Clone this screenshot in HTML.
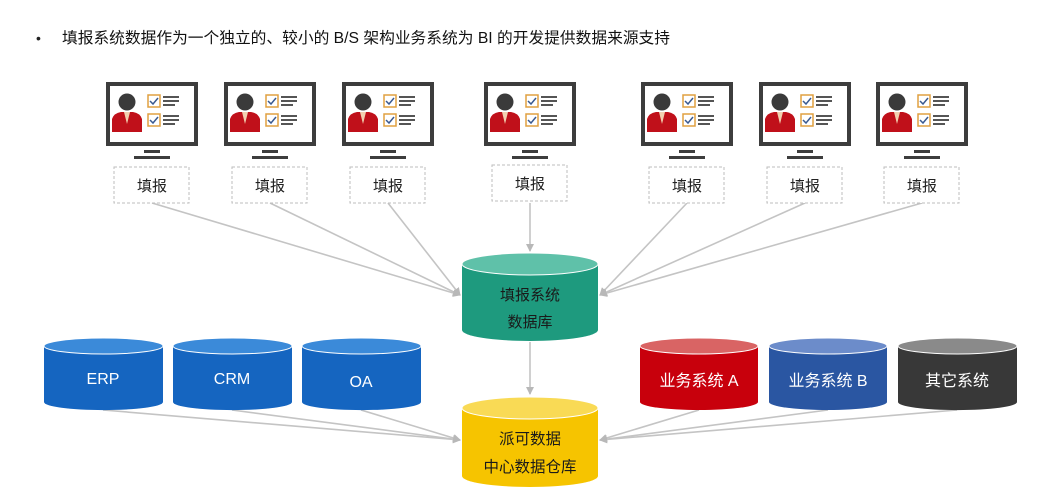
<!DOCTYPE html>
<html><head><meta charset="utf-8"><style>
html,body{margin:0;padding:0;background:#fff;}
svg{display:block;font-family:"Liberation Sans","Noto Sans CJK SC",sans-serif;}
</style></head><body>
<svg width="1049" height="500" viewBox="0 0 1049 500" xmlns="http://www.w3.org/2000/svg">
<defs>
<marker id="ar" markerWidth="8" markerHeight="8" refX="7" refY="4" orient="auto" markerUnits="userSpaceOnUse">
<path d="M0,0 L8,4 L0,8 Z" fill="#b8b8b8"/></marker>
<g id="mon">
<rect x="2" y="2" width="88" height="60" fill="#fff" stroke="#3d3d3d" stroke-width="4"/>
<circle cx="21" cy="20" r="8.5" fill="#3a3a3a"/>
<path d="M6,50 L6,37 Q8,31 15,30 L27,30 Q34,31 36,37 L36,50 Z" fill="#c0101a"/>
<path d="M18,30 L21,42 L24,30 Z" fill="#f2d0b0"/>
<rect x="42" y="13" width="12" height="12" fill="#fff" stroke="#e0a040" stroke-width="1.5"/>
<rect x="42" y="32" width="12" height="12" fill="#fff" stroke="#e0a040" stroke-width="1.5"/>
<path d="M44,19 l3,3 l5,-6 M44,38 l3,3 l5,-6" stroke="#3a5a90" stroke-width="1.5" fill="none"/>
<path d="M57,15h16 M57,19h16 M57,23h12 M57,34h16 M57,38h16 M57,42h12" stroke="#555" stroke-width="2"/>
<rect x="38" y="68" width="16" height="3" fill="#3d3d3d"/>
<rect x="28" y="74" width="36" height="3" fill="#3d3d3d"/>
</g>
</defs>

<text x="36" y="43" font-size="14" fill="#222">•</text>
<text x="62" y="43" font-size="15.5" fill="#111" textLength="608" lengthAdjust="spacingAndGlyphs">填报系统数据作为一个独立的、较小的 B/S 架构业务系统为 BI 的开发提供数据来源支持</text>

<g stroke="#c4c4c4" stroke-width="1.6" fill="none" marker-end="url(#ar)">
<line x1="152" y1="203" x2="460" y2="295"/>
<line x1="270" y1="203" x2="460" y2="295"/>
<line x1="388" y1="203" x2="460" y2="295"/>
<line x1="530" y1="203" x2="530" y2="251"/>
<line x1="687" y1="203" x2="600" y2="295"/>
<line x1="805" y1="203" x2="600" y2="295"/>
<line x1="922" y1="203" x2="600" y2="295"/>
<line x1="530" y1="342" x2="530" y2="394"/>
<line x1="103" y1="410" x2="460" y2="440"/>
<line x1="232" y1="410" x2="460" y2="440"/>
<line x1="361" y1="410" x2="460" y2="440"/>
<line x1="699" y1="410" x2="600" y2="440"/>
<line x1="828" y1="410" x2="600" y2="440"/>
<line x1="957" y1="410" x2="600" y2="440"/>
</g>

<use href="#mon" x="106" y="82"/>
<use href="#mon" x="224" y="82"/>
<use href="#mon" x="342" y="82"/>
<use href="#mon" x="484" y="82"/>
<use href="#mon" x="641" y="82"/>
<use href="#mon" x="759" y="82"/>
<use href="#mon" x="876" y="82"/>

<g fill="#fff" stroke="#bdbdbd" stroke-dasharray="3,2">
<rect x="114" y="167" width="75" height="36"/>
<rect x="232" y="167" width="75" height="36"/>
<rect x="350" y="167" width="75" height="36"/>
<rect x="492" y="165" width="75" height="36"/>
<rect x="649" y="167" width="75" height="36"/>
<rect x="767" y="167" width="75" height="36"/>
<rect x="884" y="167" width="75" height="36"/>
</g>
<g font-size="15" fill="#222" text-anchor="middle">
<text x="152" y="191">填报</text><text x="270" y="191">填报</text><text x="388" y="191">填报</text>
<text x="530" y="189">填报</text><text x="687" y="191">填报</text><text x="805" y="191">填报</text><text x="922" y="191">填报</text>
</g>

<path d="M462,264 L462,330 A68,11 0 0 0 598,330 L598,264 Z" fill="#1e9a7e"/>
<ellipse cx="530" cy="264" rx="68" ry="11" fill="#5fc1a9" stroke="#fff" stroke-width="1"/>
<text x="530" y="300" font-size="15" fill="#1a1a1a" text-anchor="middle">填报系统</text>
<text x="530" y="327" font-size="15" fill="#1a1a1a" text-anchor="middle">数据库</text>

<path d="M462,408 L462,476 A68,11 0 0 0 598,476 L598,408 Z" fill="#f6c400"/>
<ellipse cx="530" cy="408" rx="68" ry="11" fill="#f9da55" stroke="#fff" stroke-width="1"/>
<text x="530" y="444" font-size="15.5" fill="#1a1a1a" text-anchor="middle">派可数据</text>
<text x="530" y="472" font-size="15.5" fill="#1a1a1a" text-anchor="middle">中心数据仓库</text>

<g stroke="#fff" stroke-width="1">
<path d="M44,346 L44,402 A59,8 0 0 0 163,402 L163,346 Z" fill="#1565c0" stroke="none"/>
<ellipse cx="103.5" cy="346" rx="59.5" ry="8" fill="#3b8ad9"/>
<path d="M173,346 L173,402 A59,8 0 0 0 292,402 L292,346 Z" fill="#1565c0" stroke="none"/>
<ellipse cx="232.5" cy="346" rx="59.5" ry="8" fill="#3b8ad9"/>
<path d="M302,346 L302,402 A59,8 0 0 0 421,402 L421,346 Z" fill="#1565c0" stroke="none"/>
<ellipse cx="361.5" cy="346" rx="59.5" ry="8" fill="#3b8ad9"/>
<path d="M640,346 L640,402 A59,8 0 0 0 758,402 L758,346 Z" fill="#c8000c" stroke="none"/>
<ellipse cx="699" cy="346" rx="59" ry="8" fill="#d96464"/>
<path d="M769,346 L769,402 A59,8 0 0 0 887,402 L887,346 Z" fill="#2a56a2" stroke="none"/>
<ellipse cx="828" cy="346" rx="59" ry="8" fill="#6c8cca"/>
<path d="M898,346 L898,402 A59,8 0 0 0 1017,402 L1017,346 Z" fill="#383838" stroke="none"/>
<ellipse cx="957.5" cy="346" rx="59.5" ry="8" fill="#8a8a8a"/>
</g>
<g font-size="16" fill="#fff" text-anchor="middle">
<text x="103" y="384">ERP</text><text x="232" y="384">CRM</text><text x="361" y="387">OA</text>
<text x="699" y="386">业务系统 A</text><text x="828" y="386">业务系统 B</text><text x="957" y="386">其它系统</text>
</g>
</svg>
</body></html>
